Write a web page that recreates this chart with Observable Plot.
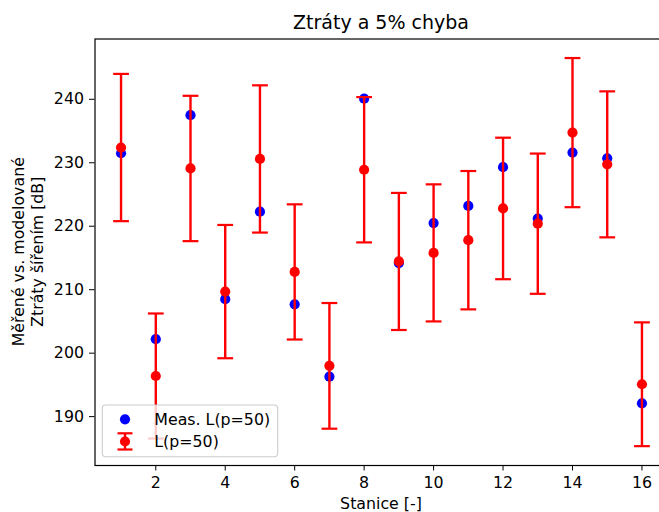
<!DOCTYPE html>
<html><head><meta charset="utf-8">
<script src="https://cdn.jsdelivr.net/npm/d3@7"></script>
<script src="https://cdn.jsdelivr.net/npm/@observablehq/plot@0.6"></script>
<style>html,body{margin:0;padding:0;background:#fff;overflow:hidden} svg{display:block}</style>
</head><body><div id="chart"></div>
<script>
const stations = [1, 2, 3, 4, 5, 6, 7, 8, 9, 10, 11, 12, 13, 14, 15, 16];
const measured = [231.5, 202.2, 237.5, 208.5, 222.3, 207.7, 196.3, 240.1, 214.2, 220.5, 223.2, 229.3, 221.2, 231.6, 230.7, 192.1];
const modeled  = [232.4, 196.4, 229.1, 209.7, 230.6, 212.8, 198.0, 228.9, 214.45, 215.8, 217.8, 222.8, 220.4, 234.75, 229.75, 195.1];
const errors   = [11.6, 9.85, 11.45, 10.5, 11.6, 10.65, 9.9, 11.45, 10.8, 10.8, 10.9, 11.15, 11.05, 11.75, 11.5, 9.75];
const xTicks = [2, 4, 6, 8, 10, 12, 14, 16];
const yTicks = [190, 200, 210, 220, 230, 240];
const titleText = "Ztráty a 5% chyba";
const xLabel = "Stanice [-]";
const yLabelLines = ["Měřené vs. modelované", "Ztráty šířením [dB]"];
const legendLabels = ["Meas. L(p=50)", "L(p=50)"];

const rows = stations.map((s, i) => ({
  station: s, meas: measured[i], model: modeled[i],
  lo: modeled[i] - errors[i], hi: modeled[i] + errors[i]
}));

const capSymbol = {draw(ctx, size) { const w = Math.sqrt(size / Math.PI); ctx.moveTo(-w, 0); ctx.lineTo(w, 0); }};

const BLUE = "#0000ff", RED = "#ff0000";
const FONT = "DejaVu Sans";
const R = 5.1;

const plot = Plot.plot({
  width: 659, height: 512,
  marginLeft: 94.5, marginRight: -8.5, marginTop: 38.5, marginBottom: 47,
  style: {fontFamily: FONT, fontSize: "15.8px", color: "black", background: "white"},
  x: {domain: [0.25, 16.75]},
  y: {domain: [182.3, 249.5]},
  marks: [
    Plot.dot(rows, {x: "station", y: "meas", r: R, fill: BLUE}),
    Plot.ruleX(rows, {x: "station", y1: "lo", y2: "hi", stroke: RED, strokeWidth: 2.4}),
    Plot.dot(rows, {x: "station", y: "hi", symbol: capSymbol, r: 7.9, stroke: RED, strokeWidth: 2.2, fill: "none"}),
    Plot.dot(rows, {x: "station", y: "lo", symbol: capSymbol, r: 7.9, stroke: RED, strokeWidth: 2.2, fill: "none"}),
    Plot.dot(rows, {x: "station", y: "model", r: R, fill: RED}),
    Plot.frame({stroke: "black", strokeWidth: 1.2}),
    Plot.axisX({ticks: xTicks, tickSize: 5.5, tickPadding: 5.5, label: null, tickFormat: d => String(d)}),
    Plot.axisY({ticks: yTicks, tickSize: 5.5, tickPadding: 5.5, label: null, tickFormat: d => String(d)})
  ]
});
document.getElementById("chart").appendChild(plot);

const svg = d3.select(plot);
const cx = (94.5 + 667.5) / 2;
svg.append("text").attr("x", cx).attr("y", 29).attr("text-anchor", "middle")
  .attr("font-family", FONT).attr("font-size", "19px").attr("fill", "black").text(titleText);
svg.append("text").attr("x", cx).attr("y", 508.5).attr("text-anchor", "middle")
  .attr("font-family", FONT).attr("font-size", "15.8px").attr("fill", "black").text(xLabel);
const ymid = (38.5 + 465) / 2;
yLabelLines.forEach((t, i) => {
  const bx = 24 + i * 19;
  svg.append("text").attr("transform", `translate(${bx},${ymid}) rotate(-90)`)
    .attr("text-anchor", "middle").attr("font-family", FONT).attr("font-size", "15.8px")
    .attr("fill", "black").text(t);
});

// legend
const lg = svg.append("g");
lg.append("rect").attr("x", 102.3).attr("y", 405).attr("width", 175.4).attr("height", 51.7)
  .attr("rx", 3.5).attr("fill", "white").attr("fill-opacity", 0.8)
  .attr("stroke", "#cccccc").attr("stroke-width", 1.1);
lg.append("circle").attr("cx", 125).attr("cy", 419.3).attr("r", R).attr("fill", BLUE);
lg.append("line").attr("x1", 125).attr("x2", 125).attr("y1", 433.3).attr("y2", 449.5).attr("stroke", RED).attr("stroke-width", 2.4);
[433.3, 449.5].forEach(y => lg.append("line").attr("x1", 117.5).attr("x2", 132.5).attr("y1", y).attr("y2", y).attr("stroke", RED).attr("stroke-width", 2.2));
lg.append("circle").attr("cx", 125).attr("cy", 441.5).attr("r", R).attr("fill", RED);
legendLabels.forEach((t, i) => {
  lg.append("text").attr("x", 154.3).attr("y", 424.8 + i * 22.5).attr("text-anchor", "start")
    .attr("font-family", FONT).attr("font-size", "15.8px").attr("fill", "black").text(t);
});
</script>
</body></html>
